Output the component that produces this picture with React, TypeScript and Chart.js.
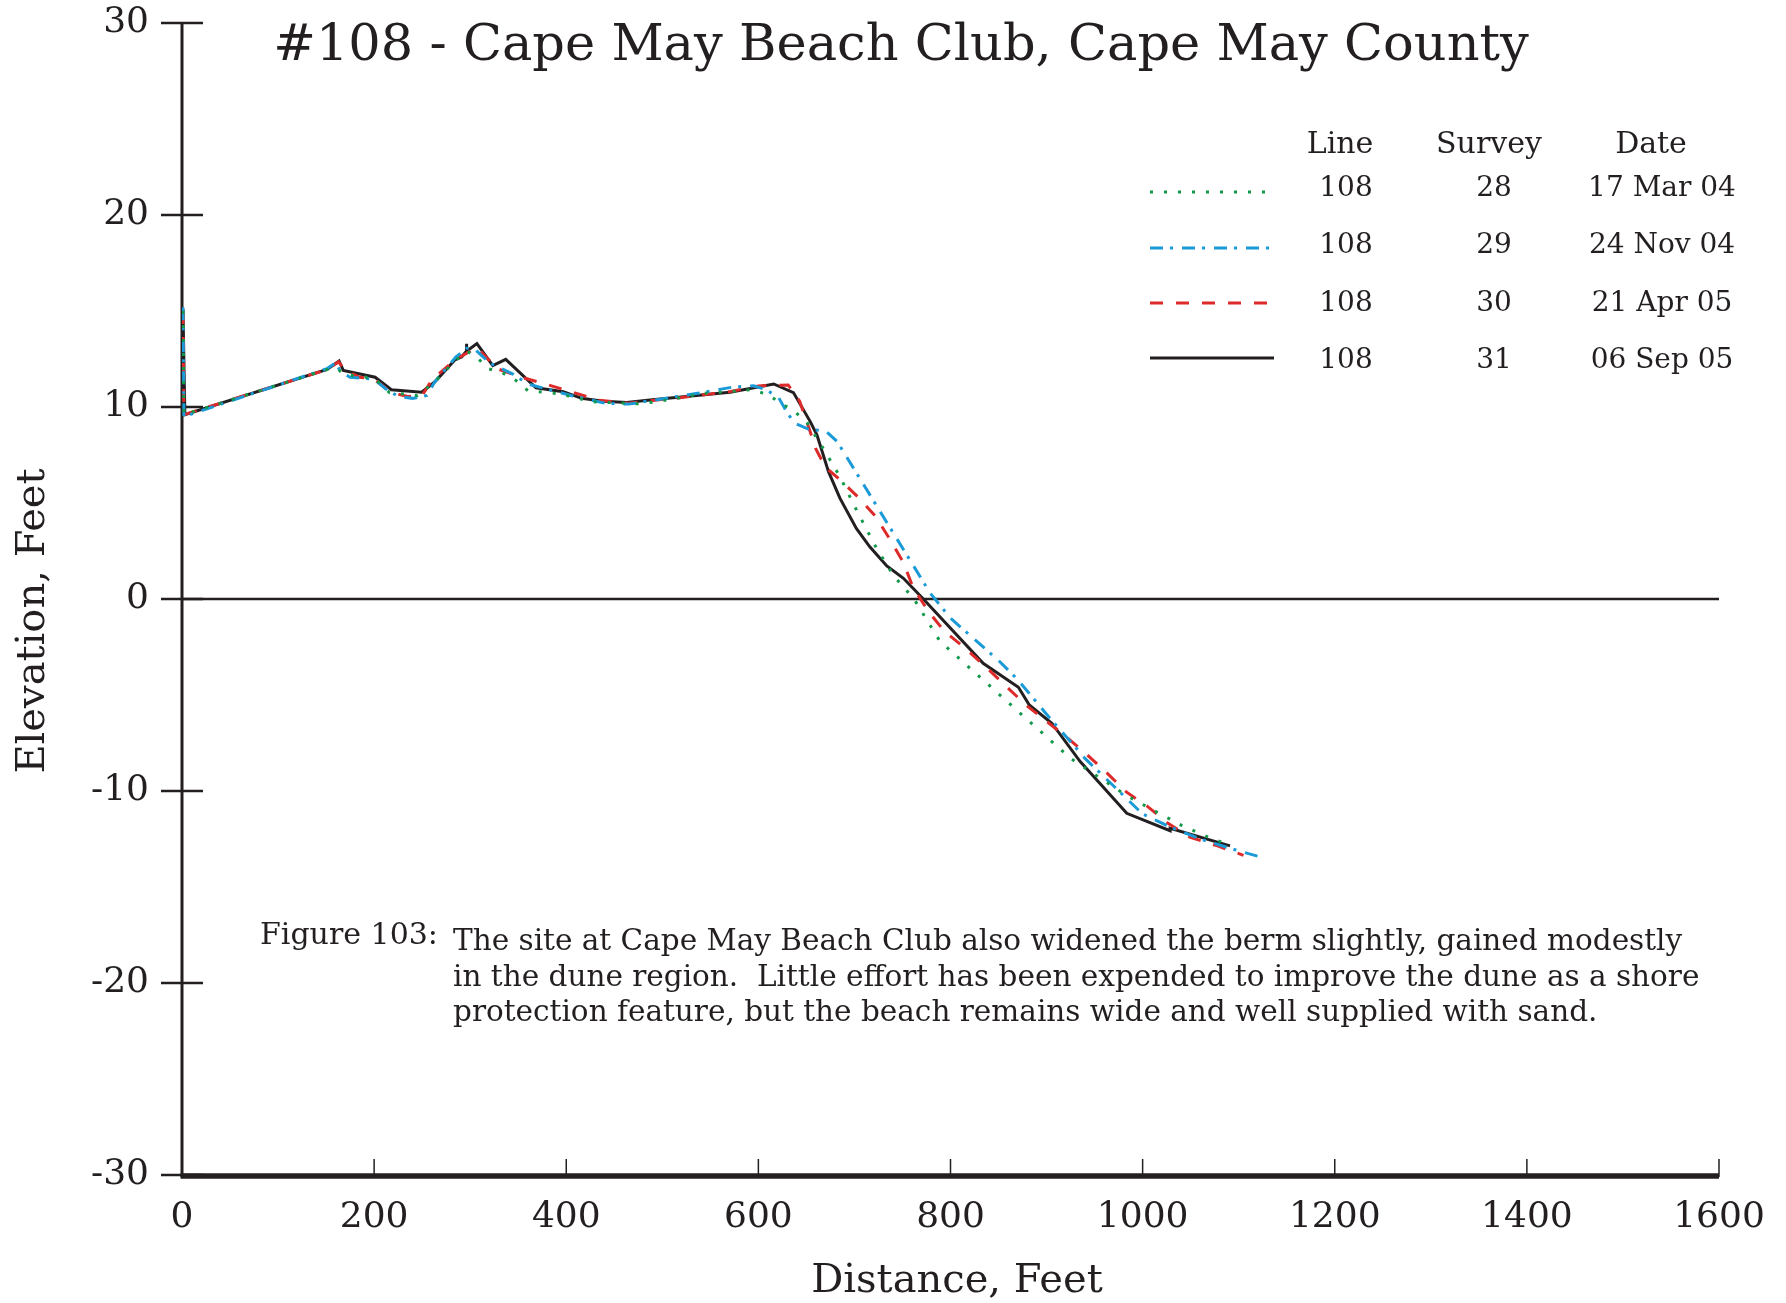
import React, { useEffect, useRef } from 'react';
import { Chart, registerables } from 'chart.js';

Chart.register(...registerables);

// ---------- data ----------
const xTickValues = [0, 200, 400, 600, 800, 1000, 1200, 1400, 1600];
const yTickValues = [-30, -20, -10, 0, 10, 20, 30];

// Survey 28 - 17 Mar 04 (green dotted)
const mar04Dist = [1, 2, 151, 162, 168, 200, 216, 245, 263, 284, 297, 307, 318, 333, 348, 360, 377, 394, 426, 477, 510, 541, 593, 609, 623, 638, 650, 668, 685, 700, 723, 741, 762, 789, 925, 982, 1011, 1041, 1071, 1090];
const mar04Elev = [15.0, 9.6, 11.95, 12.0, 11.7, 11.5, 10.75, 10.6, 11.3, 12.4, 12.9, 12.6, 12.0, 11.8, 11.37, 10.85, 10.77, 10.68, 10.28, 10.16, 10.4, 10.7, 10.9, 10.66, 10.22, 9.75, 9.24, 7.8, 6.37, 4.84, 2.64, 1.2, 0, -2.2, -8.3, -10.2, -11.0, -11.8, -12.46, -12.8];

// Survey 29 - 24 Nov 04 (blue dash-dot)
const nov04Dist = [1, 2, 151, 160, 165, 175, 200, 212, 225, 240, 255, 263, 285, 296, 303, 320, 345, 360, 405, 440, 465, 535, 575, 595, 608, 621, 630, 638, 652, 670, 682, 779, 800, 850, 870, 900, 940, 1000, 1030, 1060, 1092, 1120];
const nov04Elev = [15.2, 9.5, 12.0, 12.3, 11.85, 11.55, 11.45, 10.95, 10.55, 10.45, 10.6, 11.3, 12.6, 13.05, 13.1, 12.3, 11.7, 11.2, 10.6, 10.2, 10.15, 10.7, 11.05, 11.1, 10.9, 10.5, 9.7, 9.15, 8.85, 8.75, 8.2, 0.3, -1.0, -3.2, -4.2, -6.0, -8.3, -11.2, -11.9, -12.5, -13.0, -13.4];

// Survey 30 - 21 Apr 05 (red dashed)
const apr05Dist = [1, 2, 151, 163, 170, 185, 200, 218, 235, 250, 260, 284, 307, 328, 350, 378, 405, 433, 465, 520, 570, 600, 631, 643, 652, 660, 670, 683, 704, 722, 737, 751, 761, 777, 794, 815, 836, 857, 878, 921, 942, 963, 983, 1005, 1026, 1049, 1078, 1105];
const apr05Elev = [15.0, 9.6, 11.95, 12.35, 11.9, 11.55, 11.45, 10.75, 10.55, 10.6, 11.4, 12.45, 13.1, 12.0, 11.6, 11.2, 10.8, 10.35, 10.2, 10.5, 10.8, 11.1, 11.15, 10.3, 9.0, 7.8, 6.85, 6.3, 5.3, 4.3, 3.1, 1.9, 0.6, -0.65, -1.7, -2.55, -3.5, -4.5, -5.5, -7.2, -8.1, -9.07, -10.05, -10.8, -11.67, -12.4, -12.86, -13.35];

// Survey 31 - 06 Sep 05 (black solid)
const sep05Dist = [1, 3, 151, 163.5, 168, 201, 218, 249.5, 263, 284, 291, 296, 296, 296.5, 307, 323.5, 337, 368.5, 397, 416, 438.6, 463, 487, 570.5, 616, 636.5, 654, 661, 673, 685, 702, 716, 733.7, 751, 771, 834, 870.7, 882, 905.5, 935, 983.5, 1028.6, 1028.6, 1091];
const sep05Elev = [15.1, 9.6, 11.96, 12.4, 11.9, 11.55, 10.9, 10.77, 11.3, 12.45, 12.6, 12.9, 13.3, 12.9, 13.3, 12.15, 12.48, 11.0, 10.8, 10.45, 10.3, 10.24, 10.36, 10.77, 11.2, 10.75, 9.24, 8.54, 6.63, 5.24, 3.68, 2.72, 1.72, 1.08, 0.04, -3.35, -4.6, -5.52, -6.47, -8.47, -11.16, -12.07, -11.94, -12.86];

const surveyLine = ['108', '108', '108', '108'];
const surveyNumber = ['28', '29', '30', '31'];
const surveyDate = ['17 Mar 04', '24 Nov 04', '21 Apr 05', '06 Sep 05'];
const legendHeaders = ['Line', 'Survey', 'Date'];

const titleText = '#108 - Cape May Beach Club, Cape May County';
const xAxisTitle = 'Distance, Feet';
const yAxisTitle = 'Elevation, Feet';
const captionLabel = 'Figure 103:';
const captionLines = [
  'The site at Cape May Beach Club also widened the berm slightly, gained modestly',
  'in the dune region.  Little effort has been expended to improve the dune as a shore',
  'protection feature, but the beach remains wide and well supplied with sand.',
];

// ---------- styles ----------
const INK = '#231f20';
const SERIF = "'DejaVu Serif', serif";
const GREEN = '#12994a';
const BLUE = '#1b9ad8';
const RED = '#dd2a2a';

const toPoints = (xs: number[], ys: number[]) => xs.map((x, i) => ({ x, y: ys[i] }));

const decorPlugin = {
  id: 'decor',
  beforeDatasetsDraw(chart: any) {
    const { ctx, chartArea } = chart;
    const xs = chart.scales.x;
    const ys = chart.scales.y;
    ctx.save();
    ctx.strokeStyle = INK;
    ctx.lineCap = 'butt';
    // zero line
    const y0 = ys.getPixelForValue(0);
    ctx.lineWidth = 2.5;
    ctx.beginPath();
    ctx.moveTo(chartArea.left, y0);
    ctx.lineTo(chartArea.right, y0);
    ctx.stroke();
    // y ticks crossing the axis
    ctx.lineWidth = 2.5;
    ys.ticks.forEach((t: any) => {
      const py = ys.getPixelForValue(t.value);
      ctx.beginPath();
      ctx.moveTo(chartArea.left - 21, py);
      ctx.lineTo(chartArea.left + 21, py);
      ctx.stroke();
    });
    // x ticks pointing up
    ctx.lineWidth = 1.5;
    xs.ticks.forEach((t: any) => {
      const px = xs.getPixelForValue(t.value);
      ctx.beginPath();
      ctx.moveTo(px, chartArea.bottom - 16);
      ctx.lineTo(px, chartArea.bottom + 2);
      ctx.stroke();
    });
    // axis lines
    ctx.lineWidth = 3;
    ctx.beginPath();
    ctx.moveTo(chartArea.left, chartArea.top);
    ctx.lineTo(chartArea.left, chartArea.bottom + 2);
    ctx.stroke();
    ctx.lineWidth = 5.5;
    ctx.beginPath();
    ctx.moveTo(chartArea.left - 1.5, chartArea.bottom + 1);
    ctx.lineTo(chartArea.right, chartArea.bottom + 1);
    ctx.stroke();
    ctx.restore();
  },
  afterDraw(chart: any) {
    const { ctx } = chart;
    ctx.save();
    ctx.fillStyle = INK;

    // title
    ctx.font = `51px ${SERIF}`;
    ctx.textAlign = 'center';
    ctx.textBaseline = 'alphabetic';
    ctx.fillText(titleText, 901, 60);

    // axis titles
    ctx.font = `40px ${SERIF}`;
    ctx.fillText(xAxisTitle, 957, 1292);
    ctx.save();
    ctx.translate(44, 621);
    ctx.rotate(-Math.PI / 2);
    ctx.fillText(yAxisTitle, 0, 0);
    ctx.restore();

    // legend table
    const colX = [1340, 1489, 1651];
    ctx.font = `30px ${SERIF}`;
    legendHeaders.forEach((h, i) => ctx.fillText(h, colX[i], 153));
    const rowBase = [196, 253, 311, 368];
    const lineY = [192, 248, 303, 358];
    ctx.font = `28px ${SERIF}`;
    chart.data.datasets.forEach((ds: any, i: number) => {
      ctx.save();
      ctx.strokeStyle = ds.borderColor;
      ctx.lineWidth = ds.borderWidth;
      ctx.setLineDash(ds.borderDash || []);
      ctx.beginPath();
      ctx.moveTo(1150, lineY[i]);
      ctx.lineTo(1274, lineY[i]);
      ctx.stroke();
      ctx.restore();
      ctx.fillText(surveyLine[i], 1346, rowBase[i]);
      ctx.fillText(surveyNumber[i], 1494, rowBase[i]);
      ctx.fillText(surveyDate[i], 1662, rowBase[i]);
    });

    // caption
    ctx.textAlign = 'left';
    ctx.font = `30px ${SERIF}`;
    ctx.fillText(captionLabel, 260, 944);
    ctx.font = `29.5px ${SERIF}`;
    const capBase = [950, 986, 1021];
    captionLines.forEach((l, i) => ctx.fillText(l, 453, capBase[i]));
    ctx.restore();
  },
};

export default function App() {
  const canvasRef = useRef<HTMLCanvasElement | null>(null);

  useEffect(() => {
    document.body.style.margin = '0';
    const canvas = canvasRef.current;
    if (!canvas) return;
    const tickFont = { family: SERIF, size: 36 };
    const chart = new Chart(canvas, {
      type: 'scatter',
      data: {
        datasets: [
          {
            label: surveyDate[0],
            data: toPoints(mar04Dist, mar04Elev),
            borderColor: GREEN,
            borderWidth: 3,
            borderDash: [3, 11],
            showLine: true,
            pointRadius: 0,
            tension: 0,
          },
          {
            label: surveyDate[1],
            data: toPoints(nov04Dist, nov04Elev),
            borderColor: BLUE,
            borderWidth: 3,
            borderDash: [13, 7, 3, 9],
            showLine: true,
            pointRadius: 0,
            tension: 0,
          },
          {
            label: surveyDate[2],
            data: toPoints(apr05Dist, apr05Elev),
            borderColor: RED,
            borderWidth: 3,
            borderDash: [13, 13],
            showLine: true,
            pointRadius: 0,
            tension: 0,
          },
          {
            label: surveyDate[3],
            data: toPoints(sep05Dist, sep05Elev),
            borderColor: INK,
            borderWidth: 3,
            borderDash: [],
            showLine: true,
            pointRadius: 0,
            tension: 0,
          },
        ],
      },
      options: {
        animation: false,
        responsive: false,
        devicePixelRatio: 1,
        layout: { padding: { left: 0, right: 67, top: 23, bottom: 0 } },
        plugins: {
          legend: { display: false },
          tooltip: { enabled: false },
          title: { display: false },
        },
        scales: {
          x: {
            type: 'linear',
            min: 0,
            max: 1600,
            grid: { display: false, drawTicks: false },
            border: { display: false },
            ticks: {
              font: tickFont,
              color: INK,
              padding: 21,
              maxRotation: 0,
              autoSkip: false,
              callback: (v: any) => String(v),
            },
            afterBuildTicks: (s: any) => {
              s.ticks = xTickValues.map((v) => ({ value: v }));
            },
            afterFit: (s: any) => {
              s.height = 128;
              s.paddingLeft = 0;
              s.paddingRight = 0;
            },
          },
          y: {
            type: 'linear',
            min: -30,
            max: 30,
            grid: { display: false, drawTicks: false },
            border: { display: false },
            ticks: {
              font: tickFont,
              color: INK,
              padding: 33,
              autoSkip: false,
              callback: (v: any) => String(v),
            },
            afterBuildTicks: (s: any) => {
              s.ticks = yTickValues.map((v) => ({ value: v }));
            },
            afterFit: (s: any) => {
              s.width = 182;
              s.paddingTop = 0;
              s.paddingBottom = 0;
            },
          },
        },
      },
      plugins: [decorPlugin],
    } as any);
    return () => chart.destroy();
  }, []);

  return (
    <div style={{ width: 1786, height: 1303, background: '#ffffff' }}>
      <canvas ref={canvasRef} width={1786} height={1303} style={{ display: 'block', width: 1786, height: 1303 }} />
    </div>
  );
}
